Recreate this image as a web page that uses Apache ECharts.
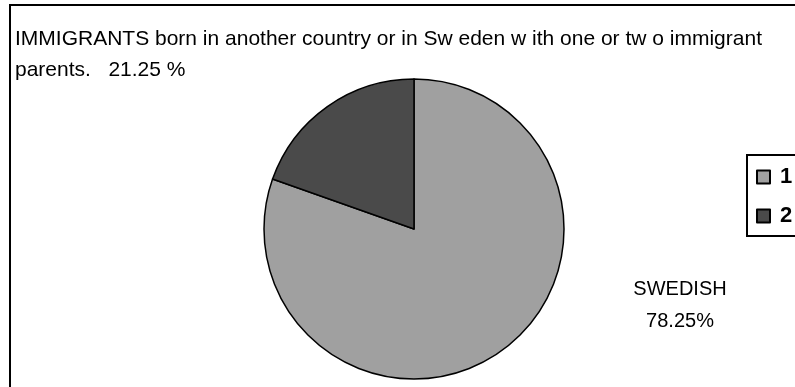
<!DOCTYPE html>
<html><head><meta charset="utf-8">
<script src="https://cdn.jsdelivr.net/npm/echarts@6/dist/echarts.min.js"></script>
<style>html,body{margin:0;padding:0;background:#fff}#c{width:795px;height:387px}</style>
</head><body><div id="c"></div>
<script>
const categories = ['1', '2'];
const values = [80.4, 19.6];
const colors = ['#a0a0a0', '#4a4a4a'];
const titleText = 'IMMIGRANTS born in another country or in Sw eden w ith one or tw o immigrant\nparents.   21.25 %';
const sliceLabel = 'SWEDISH\n78.25%';

const chart = echarts.init(document.getElementById('c'), null, {renderer: 'canvas'});
chart.setOption({
  animation: false,
  backgroundColor: '#fff',
  graphic: [{
    type: 'rect', shape: {x: 10, y: 5, width: 820, height: 420},
    style: {fill: 'none', stroke: '#000', lineWidth: 2}, z: 0
  }],
  title: [{
    text: titleText, left: 10, top: 19,
    textStyle: {fontFamily: 'Liberation Sans', fontSize: 21, fontWeight: 'normal', color: '#000', lineHeight: 31}
  }, {
    text: sliceLabel, left: 675, top: 268, textAlign: 'center',
    textStyle: {fontFamily: 'Liberation Sans', fontSize: 20, fontWeight: 'normal', color: '#000', lineHeight: 32}
  }],
  legend: {
    orient: 'vertical', left: 747, top: 155,
    padding: [11, 30, 9, 9], itemGap: 17, itemWidth: 13, itemHeight: 13,
    borderColor: '#000', borderWidth: 2, icon: 'rect',
    data: categories,
    formatter: n => '{b|' + n + '}',
    textStyle: {
      rich: {
        b: {fontFamily: 'Liberation Sans', fontSize: 22, lineHeight: 22, fontWeight: 'bold', color: '#000', padding: [0, 0, 0, 5]}
      }
    }
  },
  series: [{
    type: 'pie', center: [414, 229], radius: 150, startAngle: 90, clockwise: true,
    label: {show: false}, labelLine: {show: false},
    emphasis: {disabled: true},
    itemStyle: {borderColor: '#000', borderWidth: 1.5},
    data: categories.map((c, i) => ({name: c, value: values[i], itemStyle: {color: colors[i]}}))
  }]
});
</script></body></html>
